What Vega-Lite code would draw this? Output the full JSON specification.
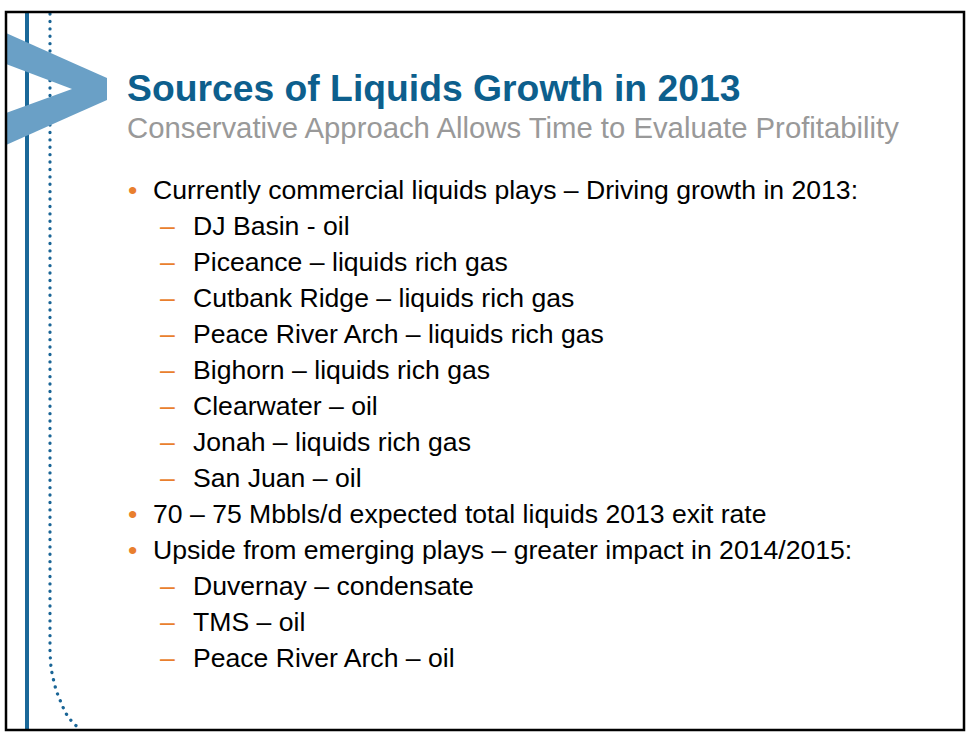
{
  "$schema": "https://vega.github.io/schema/vega-lite/v6.json",
  "width": 977,
  "height": 743,
  "padding": 0,
  "autosize": {"type": "none"},
  "background": "white",
  "datasets": {
    "frame": [{"x": 6, "x2": 964, "y": 12, "y2": 730}],
    "bar": [{"x": 27, "y": 12, "y2": 730}],
    "dots": [
      {"i": 0, "x": 50, "y": 14},
      {"i": 1, "x": 50, "y": 653},
      {"i": 2, "x": 51, "y": 667},
      {"i": 3, "x": 52.3, "y": 675},
      {"i": 4, "x": 54.3, "y": 683},
      {"i": 5, "x": 56, "y": 690},
      {"i": 6, "x": 58.7, "y": 697},
      {"i": 7, "x": 61.7, "y": 704},
      {"i": 8, "x": 65, "y": 712},
      {"i": 9, "x": 69, "y": 718},
      {"i": 10, "x": 74, "y": 724},
      {"i": 11, "x": 80, "y": 729}
    ],
    "chevron": [
      {"arm": "upper", "x": 6, "y": 33, "y2": 64},
      {"arm": "upper", "x": 72, "y": 62.4, "y2": 89},
      {"arm": "upper", "x": 107, "y": 78, "y2": 89},
      {"arm": "lower", "x": 6, "y": 113, "y2": 145},
      {"arm": "lower", "x": 72, "y": 89, "y2": 115.6},
      {"arm": "lower", "x": 107, "y": 89, "y2": 100}
    ],
    "headings": [
      {"kind": "title", "label": "Sources of Liquids Growth in 2013"},
      {"kind": "subtitle", "label": "Conservative Approach Allows Time to Evaluate Profitability"}
    ],
    "items": [
      {"line": 0, "level": 1, "label": "Currently commercial liquids plays – Driving growth in 2013:"},
      {"line": 1, "level": 2, "label": "DJ Basin - oil"},
      {"line": 2, "level": 2, "label": "Piceance – liquids rich gas"},
      {"line": 3, "level": 2, "label": "Cutbank Ridge – liquids rich gas"},
      {"line": 4, "level": 2, "label": "Peace River Arch – liquids rich gas"},
      {"line": 5, "level": 2, "label": "Bighorn – liquids rich gas"},
      {"line": 6, "level": 2, "label": "Clearwater – oil"},
      {"line": 7, "level": 2, "label": "Jonah – liquids rich gas"},
      {"line": 8, "level": 2, "label": "San Juan – oil"},
      {"line": 9, "level": 1, "label": "70 – 75 Mbbls/d expected total liquids 2013 exit rate"},
      {"line": 10, "level": 1, "label": "Upside from emerging plays – greater impact in 2014/2015:"},
      {"line": 11, "level": 2, "label": "Duvernay – condensate"},
      {"line": 12, "level": 2, "label": "TMS – oil"},
      {"line": 13, "level": 2, "label": "Peace River Arch – oil"}
    ]
  },
  "resolve": {"scale": {"x": "independent", "y": "independent", "size": "independent", "color": "independent"}},
  "layer": [
    {
      "data": {"name": "bar"},
      "mark": {"type": "rule", "color": "#1a6899", "strokeWidth": 4},
      "encoding": {
        "x": {"field": "x", "type": "quantitative", "scale": {"domain": [0, 977], "nice": false, "zero": false}},
        "y": {"field": "y", "type": "quantitative", "scale": {"domain": [0, 743], "nice": false, "zero": false, "reverse": true}},
        "y2": {"field": "y2"}
      }
    },
    {
      "data": {"name": "dots"},
      "mark": {"type": "line", "color": "#1a6596", "strokeWidth": 3.3, "strokeCap": "round", "strokeDash": [0.1, 7.3]},
      "encoding": {
        "x": {"field": "x", "type": "quantitative", "scale": {"domain": [0, 977], "nice": false, "zero": false}},
        "y": {"field": "y", "type": "quantitative", "scale": {"domain": [0, 743], "nice": false, "zero": false, "reverse": true}},
        "order": {"field": "i", "type": "quantitative"}
      }
    },
    {
      "data": {"name": "chevron"},
      "mark": {"type": "area", "color": "#6aa0c6", "opacity": 1},
      "encoding": {
        "x": {"field": "x", "type": "quantitative", "scale": {"domain": [0, 977], "nice": false, "zero": false}},
        "y": {"field": "y", "type": "quantitative", "scale": {"domain": [0, 743], "nice": false, "zero": false, "reverse": true}},
        "y2": {"field": "y2"},
        "detail": {"field": "arm", "type": "nominal"}
      }
    },
    {
      "data": {"name": "frame"},
      "mark": {"type": "rect", "filled": false, "stroke": "#000000", "strokeWidth": 2.5},
      "encoding": {
        "x": {"field": "x", "type": "quantitative", "scale": {"domain": [0, 977], "nice": false, "zero": false}},
        "x2": {"field": "x2"},
        "y": {"field": "y", "type": "quantitative", "scale": {"domain": [0, 743], "nice": false, "zero": false, "reverse": true}},
        "y2": {"field": "y2"}
      }
    },
    {
      "data": {"name": "headings"},
      "transform": [{"filter": "datum.kind == 'title'"}],
      "mark": {"type": "text", "align": "left", "baseline": "alphabetic", "font": "Liberation Sans", "fontWeight": "bold", "fontSize": 37.3, "color": "#0d5f8d"},
      "encoding": {
        "x": {"field": "kind", "type": "nominal", "scale": {"type": "point", "padding": 0, "domain": ["title", "subtitle"], "range": [127, 127]}},
        "y": {"field": "kind", "type": "nominal", "scale": {"type": "point", "padding": 0, "domain": ["title", "subtitle"], "range": [101, 138]}},
        "text": {"field": "label"}
      }
    },
    {
      "data": {"name": "headings"},
      "transform": [{"filter": "datum.kind == 'subtitle'"}],
      "mark": {"type": "text", "align": "left", "baseline": "alphabetic", "font": "Liberation Sans", "fontSize": 29.3, "color": "#999999"},
      "encoding": {
        "x": {"field": "kind", "type": "nominal", "scale": {"type": "point", "padding": 0, "domain": ["title", "subtitle"], "range": [127, 127]}},
        "y": {"field": "kind", "type": "nominal", "scale": {"type": "point", "padding": 0, "domain": ["title", "subtitle"], "range": [101, 138]}},
        "text": {"field": "label"}
      }
    },
    {
      "data": {"name": "items"},
      "mark": {"type": "text", "align": "left", "baseline": "alphabetic", "font": "Liberation Sans", "fontSize": 26.6, "color": "#e97f2e"},
      "encoding": {
        "x": {"field": "level", "type": "quantitative", "scale": {"domain": [1, 2], "range": [128, 160]}},
        "y": {"field": "line", "type": "quantitative", "scale": {"domain": [0, 13], "range": [199, 667]}},
        "text": {"condition": {"test": "datum.level == 1", "value": "•"}, "value": "–"}
      }
    },
    {
      "data": {"name": "items"},
      "mark": {"type": "text", "align": "left", "baseline": "alphabetic", "font": "Liberation Sans", "fontSize": 26.6, "color": "#000000"},
      "encoding": {
        "x": {"field": "level", "type": "quantitative", "scale": {"domain": [1, 2], "range": [153, 193]}},
        "y": {"field": "line", "type": "quantitative", "scale": {"domain": [0, 13], "range": [199, 667]}},
        "text": {"field": "label"}
      }
    }
  ],
  "config": {
    "view": {"stroke": null},
    "axis": {"disable": true},
    "legend": {"disable": true}
  }
}
